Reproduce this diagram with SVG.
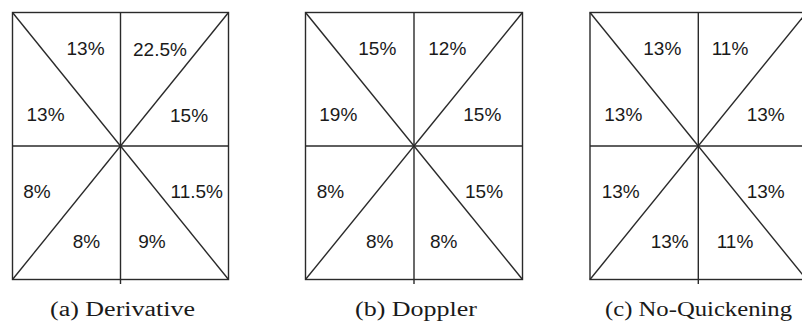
<svg xmlns="http://www.w3.org/2000/svg" width="802" height="321" viewBox="0 0 802 321">
<style>
.ln{stroke:#2a2a2a;stroke-width:1.4;fill:none}
.pc{font-family:"Liberation Sans",Arial,sans-serif;font-size:19px;fill:#1a1a1a}
.cap{font-family:"Liberation Serif","Times New Roman",serif;font-size:20px;fill:#1a1a1a}
</style>
<rect width="802" height="321" fill="#ffffff"/>
<g id="panel-a">
  <rect class="ln" x="12.5" y="12.5" width="216" height="267"/>
  <line class="ln" x1="12.5" y1="12.5" x2="228.5" y2="279.5"/>
  <line class="ln" x1="228.5" y1="12.5" x2="12.5" y2="279.5"/>
  <line class="ln" x1="120.5" y1="12.5" x2="120.5" y2="284"/>
  <line class="ln" x1="12.5" y1="146" x2="228.5" y2="146"/>
  <text class="pc" x="66.5" y="55">13%</text>
  <text class="pc" x="133" y="56">22.5%</text>
  <text class="pc" x="26.5" y="120.5">13%</text>
  <text class="pc" x="170" y="121.5">15%</text>
  <text class="pc" x="23.3" y="198.3">8%</text>
  <text class="pc" x="170.5" y="198.3">11.5%</text>
  <text class="pc" x="72.7" y="248.3">8%</text>
  <text class="pc" x="138.3" y="248.3">9%</text>
  <text class="cap" x="50" y="316" textLength="145" lengthAdjust="spacingAndGlyphs">(a) Derivative</text>
</g>
<g id="panel-b">
  <rect class="ln" x="305.5" y="12.5" width="217" height="267"/>
  <line class="ln" x1="305.5" y1="12.5" x2="522.5" y2="279.5"/>
  <line class="ln" x1="522.5" y1="12.5" x2="305.5" y2="279.5"/>
  <line class="ln" x1="414" y1="12.5" x2="414" y2="284"/>
  <line class="ln" x1="305.5" y1="146" x2="522.5" y2="146"/>
  <text class="pc" x="358.3" y="55">15%</text>
  <text class="pc" x="428.3" y="55">12%</text>
  <text class="pc" x="319.3" y="120.7">19%</text>
  <text class="pc" x="463.3" y="121">15%</text>
  <text class="pc" x="316.7" y="198">8%</text>
  <text class="pc" x="465" y="198">15%</text>
  <text class="pc" x="366" y="248">8%</text>
  <text class="pc" x="430" y="248">8%</text>
  <text class="cap" x="355" y="316" textLength="122" lengthAdjust="spacingAndGlyphs">(b) Doppler</text>
</g>
<g id="panel-c">
  <rect class="ln" x="590" y="12.5" width="216.5" height="267"/>
  <line class="ln" x1="590" y1="12.5" x2="806.5" y2="279.5"/>
  <line class="ln" x1="806.5" y1="12.5" x2="590" y2="279.5"/>
  <line class="ln" x1="698.3" y1="12.5" x2="698.3" y2="284"/>
  <line class="ln" x1="590" y1="146" x2="806.5" y2="146"/>
  <text class="pc" x="643.3" y="55">13%</text>
  <text class="pc" x="711.7" y="55">11%</text>
  <text class="pc" x="604.3" y="120.7">13%</text>
  <text class="pc" x="746.7" y="121">13%</text>
  <text class="pc" x="601.7" y="198">13%</text>
  <text class="pc" x="746.7" y="198">13%</text>
  <text class="pc" x="650.7" y="248">13%</text>
  <text class="pc" x="716.7" y="248">11%</text>
  <text class="cap" x="605" y="316" textLength="187" lengthAdjust="spacingAndGlyphs">(c) No-Quickening</text>
</g>
</svg>
